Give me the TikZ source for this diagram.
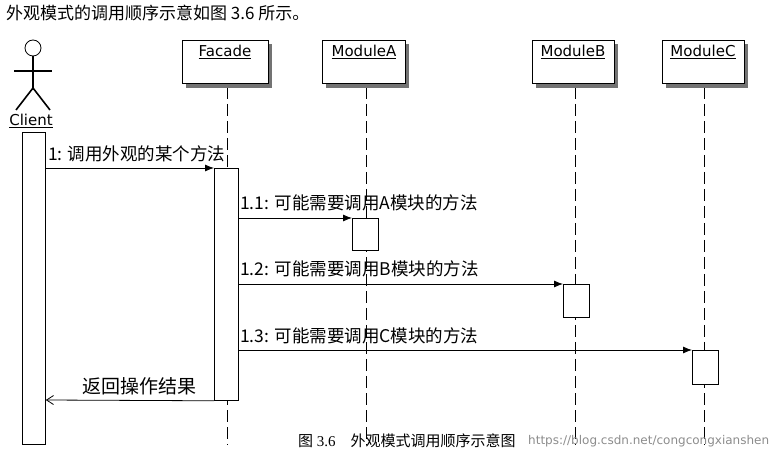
\documentclass[tikz,border=0pt]{standalone}
\usepackage{fontspec}
\setmainfont{Liberation Serif}
\newfontfamily\cjk{Noto Sans CJK SC}
\newfontfamily\uisans{DejaVu Sans}
\usetikzlibrary{arrows.meta}
\definecolor{shade}{gray}{0.45}
\begin{document}
\begin{tikzpicture}[x=1pt,y=-1pt,
  obj/.style={draw,fill=white,line width=0.8pt},
  life/.style={line width=0.8pt,dash pattern=on 12pt off 5pt},
  act/.style={draw,fill=white,line width=0.8pt},
  msg/.style={line width=0.8pt,-{Latex[length=9pt,width=7pt]}},
  ret/.style={line width=0.8pt,-{Straight Barb[length=7pt,width=9pt]}},
  lbl/.style={font=\cjk\fontsize{17.5}{19}\selectfont,anchor=base west,inner sep=0pt},
  oname/.style={font=\uisans\fontsize{15}{17}\selectfont,inner sep=0pt}]
\useasboundingbox (0,0) rectangle (782,462);
\node[font=\cjk\fontsize{17}{19}\selectfont,anchor=west,inner sep=0pt] (title) at (6,13) {外观模式的调用顺序示意如图 3.6 所示。};
% actor
\draw[line width=0.8pt] (33,48) circle (8);
\draw[line width=1.6pt] (14,71) -- (52,71);
\draw[line width=1.6pt] (33,56) -- (33,90);
\draw[line width=1.6pt] (33,88) -- (16,110);
\draw[line width=1.6pt] (33,88) -- (50,110);
\node[oname,anchor=base] (client) at (31,126) {\underline{Client}};
% shadows and boxes
\foreach \x in {227,366,575,704}{\draw[life] (\x,87) -- (\x,445);}
\path[fill=shade] (186,44) rectangle (272,88);
\path[fill=shade] (326,44) rectangle (409,88);
\path[fill=shade] (536,44) rectangle (618,88);
\path[fill=shade] (666,44) rectangle (748,88);
\draw[obj] (182,40) rectangle (268,83);
\draw[obj] (322,40) rectangle (405,83);
\draw[obj] (532,40) rectangle (614,83);
\draw[obj] (662,40) rectangle (744,83);
\node[oname,anchor=base] (fac) at (225,57) {\underline{Facade}};
\node[oname,anchor=base] (ma) at (364,57) {\underline{ModuleA}};
\node[oname,anchor=base] (mb) at (573,57) {\underline{ModuleB}};
\node[oname,anchor=base] (mc) at (703,57) {\underline{ModuleC}};
% activations
\node[act,minimum width=23,minimum height=312,anchor=north west] (cact) at (22,132) {};
\node[act,minimum width=24,minimum height=232,anchor=north west] (fact) at (214,168) {};
\node[act,minimum width=26,minimum height=32,anchor=north west] (aact) at (352,218) {};
\node[act,minimum width=26,minimum height=33,anchor=north west] (bact) at (563,284) {};
\node[act,minimum width=26,minimum height=34,anchor=north west] (cact2) at (692,350) {};
% messages
\draw[msg] (cact.east |- 0,168) -- (fact.north west);
\node[lbl] at (48,161) {1: 调用外观的某个方法};
\draw[msg] (fact.east |- 0,218) -- (aact.north west);
\node[lbl] at (240,210) {1.1: 可能需要调用A模块的方法};
\draw[msg] (fact.east |- 0,284) -- (bact.north west);
\node[lbl] at (240,276) {1.2: 可能需要调用B模块的方法};
\draw[msg] (fact.east |- 0,350) -- (cact2.north west);
\node[lbl] at (240,342) {1.3: 可能需要调用C模块的方法};
\draw[ret] (fact.south west) -- (cact.east |- 0,400);
\node[lbl,font=\cjk\fontsize{19}{21}\selectfont] at (82,393) {返回操作结果};
% caption
\node[font=\fontsize{15}{17}\selectfont,anchor=west,inner sep=0pt] (cap) at (298,441) {\cjk 图\rmfamily{} 3.6\quad \cjk 外观模式调用顺序示意图};
\node[font=\uisans\fontsize{12}{14}\selectfont,text=black!45,anchor=west,inner sep=0pt] (wm) at (528,441) {https://blog.csdn.net/congcongxianshen};
\end{tikzpicture}
\end{document}
